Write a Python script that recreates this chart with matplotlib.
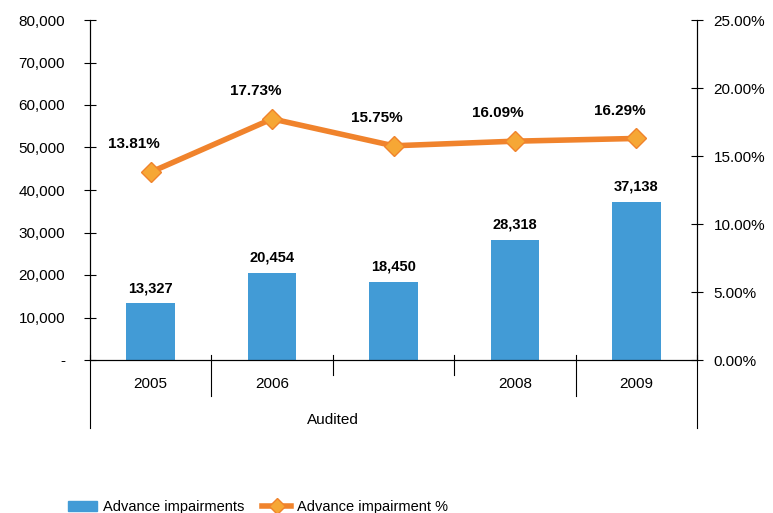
import matplotlib.pyplot as plt
from matplotlib.ticker import FuncFormatter, PercentFormatter
from matplotlib.lines import Line2D
from matplotlib.patches import Patch

plt.rcParams['font.family'] = ['Liberation Sans', 'DejaVu Sans']

years = ['2005', '2006', '', '2008', '2009']
impairments = [13327, 20454, 18450, 28318, 37138]
impairment_pct = [13.81, 17.73, 15.75, 16.09, 16.29]
group_label = 'Audited'

bar_color = '#429BD6'
line_color = '#F0832C'
marker_face = '#F6A735'

fig = plt.figure(figsize=(7.73, 5.13), dpi=100)
ax = fig.add_axes([90 / 773, 1 - 360 / 513, 607 / 773, 340 / 513])
ax2 = ax.twinx()

x = list(range(len(years)))
ax.bar(x, impairments, width=0.4, color=bar_color, zorder=2)
for xi, v in zip(x, impairments):
    ax.annotate(f'{v:,}', (xi, v), xytext=(0, 6), textcoords='offset points',
                ha='center', va='bottom', fontsize=10.5, fontweight='bold')

ax2.plot(x, impairment_pct, color=line_color, lw=4, marker='D', ms=10,
         mfc=marker_face, mec=line_color, mew=1, zorder=3)
for xi, v in zip(x, impairment_pct):
    ax2.annotate(f'{v:.2f}%', (xi, v), xytext=(-12, 15), textcoords='offset points',
                 ha='center', va='bottom', fontsize=11, fontweight='bold')

ax.set_xlim(-0.5, len(years) - 0.5)
ax.set_ylim(0, 80000)
ax2.set_ylim(0, 25)
ax.set_yticks(range(0, 80001, 10000))
ax.yaxis.set_major_formatter(FuncFormatter(lambda v, p: '-' if v == 0 else f'{v:,.0f}'))
ax2.set_yticks(range(0, 26, 5))
ax2.yaxis.set_major_formatter(PercentFormatter(decimals=2))

for a in (ax, ax2):
    a.spines['top'].set_visible(False)
    a.tick_params(axis='y', direction='inout', length=8, width=0.8, labelsize=11)
ax.tick_params(axis='y', pad=14)
ax2.tick_params(axis='y', pad=8)
ax.set_xticks([])

# category labels, separators and group label
trans = ax.get_xaxis_transform()
for xi, lab in zip(x, years):
    ax.text(xi, -0.07, lab, transform=trans, ha='center', va='center', fontsize=11)
for i in range(len(years) + 1):
    b = i - 0.5
    if i in (0, len(years)):
        y0 = -0.2
    elif i in (1, 4):
        y0 = -0.105
    else:
        y0 = -0.045
    ax.plot([b, b], [0.015, y0], transform=trans, color='black', lw=0.8, clip_on=False)
ax.text(1.5, -0.175, group_label, transform=trans, ha='center', va='center', fontsize=11)

handles = [Patch(color=bar_color),
           Line2D([], [], color=line_color, lw=4, marker='D', ms=8, mfc=marker_face, mec=line_color)]
fig.legend(handles, ['Advance impairments', 'Advance impairment %'], loc='center left',
           bbox_to_anchor=(58 / 773, 1 - 507 / 513), ncol=2, frameon=False, fontsize=10.5,
           handlelength=2.0, handletextpad=0.4, columnspacing=1.2, borderpad=0.2)

fig.savefig('out.png', dpi=100)
